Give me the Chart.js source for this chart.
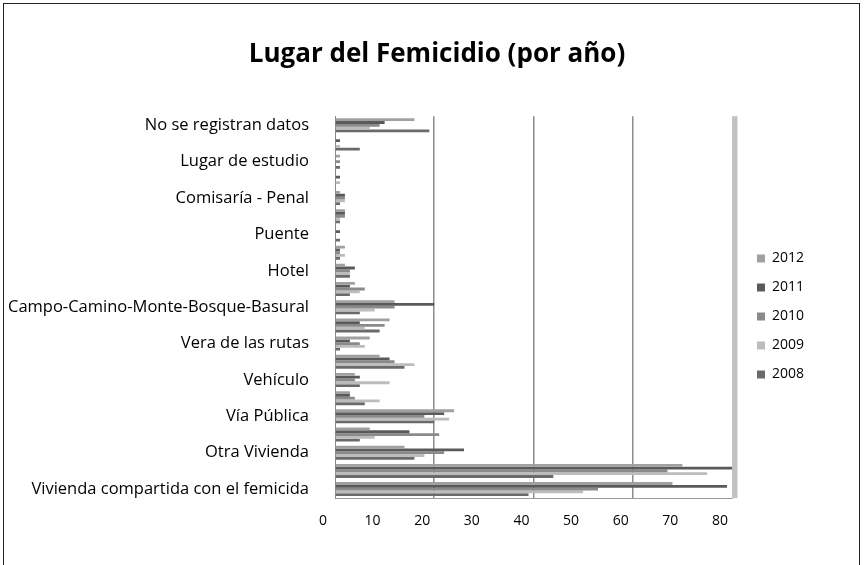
<!DOCTYPE html>
<html>
<head>
<meta charset="utf-8">
<script src="https://cdn.jsdelivr.net/npm/chart.js@4.4.1/dist/chart.umd.min.js"></script>
<style>
  html, body { margin: 0; padding: 0; background: #fff; }
  #wrap { position: relative; width: 864px; height: 565px; overflow: hidden; }
  #frame { position: absolute; left: 3px; top: 3px; width: 857px; height: 620px; border: 1px solid #222; box-sizing: border-box; pointer-events: none; }
  canvas { position: absolute; left: 0; top: 0; }
</style>
</head>
<body>
<div id="wrap">
  <canvas id="c" width="864" height="565"></canvas>
  <div id="frame"></div>
</div>
<script>
// Categories, top to bottom (every other label is shown, as in the original)
const categories = [
  "No se registran datos",
  "Otro",
  "Lugar de estudio",
  "Hospital",
  "Comisaría - Penal",
  "Comercio",
  "Puente",
  "Río - Arroyo - Laguna",
  "Hotel",
  "Descampado",
  "Campo-Camino-Monte-Bosque-Basural",
  "Lugar de trabajo",
  "Vera de las rutas",
  "Vivienda del femicida",
  "Vehículo",
  "Plaza",
  "Vía Pública",
  "Vivienda de familiares",
  "Otra Vivienda",
  "Vivienda de la víctima",
  "Vivienda compartida con el femicida"
];

const years = ["2012", "2011", "2010", "2009", "2008"];

const values2012 = [16, 0, 1, 0, 1, 2, 0, 2, 2, 4, 12, 11, 7, 9, 4, 3, 24, 7, 14, 70, 68];
const values2011 = [10, 1, 0, 1, 2, 2, 1, 1, 4, 3, 20, 5, 3, 11, 5, 3, 22, 15, 26, 80, 79];
const values2010 = [9, 0, 1, 0, 2, 2, 0, 1, 3, 6, 12, 10, 5, 12, 4, 4, 18, 21, 22, 67, 53];
const values2009 = [7, 1, 0, 1, 2, 1, 0, 2, 3, 5, 8, 6, 6, 16, 11, 9, 23, 8, 18, 75, 50];
const values2008 = [19, 5, 1, 0, 1, 1, 1, 1, 3, 3, 5, 9, 1, 14, 5, 6, 20, 5, 16, 44, 39];

const xTicks = [0, 10, 20, 30, 40, 50, 60, 70, 80];

const seriesValues = [values2012, values2011, values2010, values2009, values2008];
const seriesColors = ["#a0a0a0", "#5a5a5a", "#8a8a8a", "#bcbcbc", "#6a6a6a"];

const FONT = "'Open Sans', Lato, sans-serif";

const extras = {
  id: 'extras',
  afterLayout(chart) {
    const lg = chart.legend;
    if (lg) { lg.left += 10; lg.right += 10; lg.top += 45; lg.bottom += 45; }
    const tb = chart.titleBlock;
    if (tb) { tb.left += 35; tb.right += 35; }
  },
  beforeDatasetsDraw(chart) {
    const ctx = chart.ctx;
    const a = chart.chartArea;
    const x = chart.scales.x.getPixelForValue(80);
    ctx.save();
    ctx.fillStyle = '#c2c2c2';
    ctx.fillRect(x, a.top, 5.5, a.bottom - a.top);
    ctx.restore();
  }
};

new Chart(document.getElementById('c'), {
  type: 'bar',
  data: {
    labels: categories,
    datasets: years.map((y, i) => ({
      label: y,
      data: seriesValues[i],
      backgroundColor: seriesColors[i],
      borderWidth: 0,
      categoryPercentage: 0.77,
      barPercentage: 1.0
    }))
  },
  options: {
    indexAxis: 'y',
    responsive: false,
    animation: false,
    devicePixelRatio: 1,
    layout: { padding: { left: 0, right: 60, top: 0, bottom: 22 } },
    plugins: {
      title: {
        display: true,
        text: 'Lugar del Femicidio (por año)',
        color: '#000',
        font: { family: FONT, size: 26, weight: 'bold' },
        padding: { top: 39, bottom: 46 }
      },
      legend: {
        position: 'right',
        align: 'center',
        labels: {
          color: '#000',
          font: { family: FONT, size: 14 },
          boxWidth: 8,
          boxHeight: 8,
          padding: 15
        }
      },
      tooltip: { enabled: false }
    },
    scales: {
      x: {
        min: 0,
        max: 80,
        afterBuildTicks(scale) { scale.ticks = xTicks.map(v => ({ value: v })); },
        ticks: { color: '#000', font: { family: FONT, size: 14 }, padding: 14, labelOffset: -12 },
        grid: {
          drawTicks: false,
          color: ctx => (ctx.tick && [20, 40, 60].includes(ctx.tick.value)) ? '#8c8c8c' : 'rgba(0,0,0,0)',
          lineWidth: 1.5
        },
        border: { display: true, color: '#9a9a9a', width: 1 }
      },
      y: {
        afterFit(scale) { scale.width = 335; },
        ticks: {
          autoSkip: false,
          color: '#000',
          font: { family: FONT, size: 16.5 },
          padding: 26,
          callback(val, i) { return i % 2 === 0 ? categories[i] : ''; }
        },
        grid: { display: false, drawTicks: false },
        border: { display: true, color: '#8a8a8a', width: 1 }
      }
    }
  },
  plugins: [extras]
});
</script>
</body>
</html>
